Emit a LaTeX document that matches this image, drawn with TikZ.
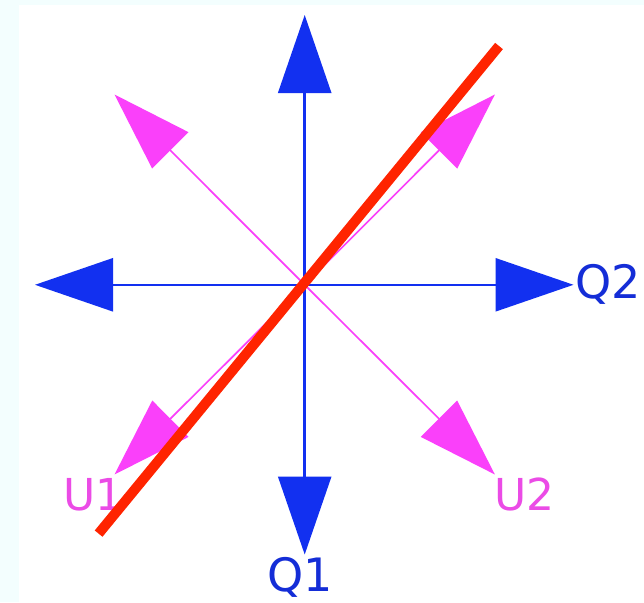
\documentclass[tikz,border=0pt]{standalone}
\usepackage{fontspec}
\setmainfont{DejaVu Sans}
\usetikzlibrary{arrows.meta}
\definecolor{qblue}{RGB}{18,48,240}
\definecolor{qtext}{RGB}{20,45,215}
\definecolor{umag}{RGB}{250,64,250}
\definecolor{utext}{RGB}{235,75,230}
\definecolor{redline}{RGB}{255,36,0}
\definecolor{bgcyan}{RGB}{243,254,254}
\tikzset{
  blueax/.style={draw=qblue, line width=2.5pt, -{Triangle[length=78pt,width=53pt,fill=qblue]}},
  magax/.style={draw=umag, line width=1.7pt, -{Triangle[length=79pt,width=51pt,fill=umag]}},
  qlab/.style={text=qtext, font=\fontsize{46}{46}\selectfont, inner sep=0pt},
  ulab/.style={text=utext, font=\fontsize{44}{44}\selectfont, inner sep=0pt},
}
\begin{document}
\begin{tikzpicture}[x=1pt,y=-1pt]
\useasboundingbox (0,0) rectangle (644,602);
\fill[bgcyan] (0,0) rectangle (644,602);
\fill[white] (19,5) rectangle (644,602);
\coordinate (c) at (304.7,284.8);
\coordinate (up) at (304.7,15);
\coordinate (dn) at (304.7,554.5);
\coordinate (lf) at (35,284.8);
\coordinate (rt) at (573.5,284.8);
\coordinate (ul) at (114.5,94.5);
\coordinate (ur) at (494.9,94.5);
\coordinate (dl) at (114.5,474.5);
\coordinate (dr) at (494.9,474.5);
\coordinate (r1) at (98.6,533.6);
\coordinate (r2) at (499,46);
\draw[magax] (c) -- (ul);
\draw[magax] (c) -- (ur);
\draw[magax] (c) -- (dl);
\draw[magax] (c) -- (dr);
\draw[blueax] (c) -- (up);
\draw[blueax] (c) -- (dn);
\draw[blueax] (c) -- (lf);
\draw[blueax] (c) -- (rt);
\node[qlab, anchor=base west] (q2) at (575,298) {Q2};
\node[qlab, anchor=base] (q1) at (300,591) {Q1};
\node[ulab, anchor=base] (u1) at (93.5,510.5) {U1};
\node[ulab, anchor=base] (u2) at (524.5,510.5) {U2};
\draw[redline, line width=10pt] (r1) -- (r2);
\end{tikzpicture}
\end{document}
